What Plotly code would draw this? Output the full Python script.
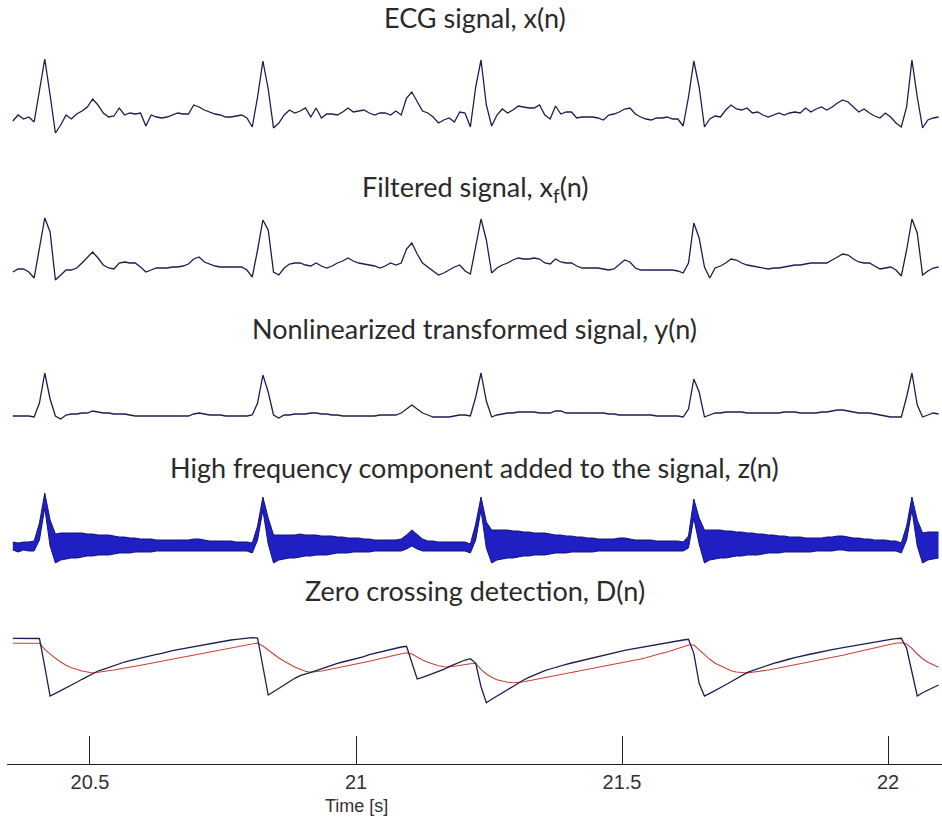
import numpy as np
import plotly.graph_objects as go

# ---------------- data ----------------
T_START = 20.355   # s, first sample
DT = 0.01          # s, sampling step

tick_vals = [20.5, 21.0, 21.5, 22.0]
tick_text = ["20.5", "21", "21.5", "22"]

titles = [
    "ECG signal, x(n)",
    "Filtered signal, x<sub>f</sub>(n)",
    "Nonlinearized transformed signal, y(n)",
    "High frequency component added to the signal, z(n)",
    "Zero crossing detection, D(n)",
]

ecg = [-4, 2, -2, 0, -5, 25, 58, 22, -16, -8,
       2, -2, 3, 6, 10, 18, 12, 4, 0, 1,
       9, 2, 4, 3, 4, -9, 2, 0, -1, 0,
       2, 4, 3, 3, 12, 10, 7, 5, 3, 2,
       0, 0, 1, 2, -1, -10, 20, 56, 28, -11,
       -6, 2, 7, 4, 6, 9, 0, 9, -1, 3,
       3, 2, 5, 9, 5, 6, 7, 4, 2, 4,
       4, 2, 6, 2, 19, 25, 16, 6, 4, 0,
       -6, -3, -1, -5, 5, 4, -10, 30, 57, 12,
       -9, 2, 8, 4, 7, 11, 10, 9, 9, 12,
       2, -2, 11, 3, 5, 5, -1, 0, 0, 0,
       -1, -3, 2, 3, 5, 8, 9, 3, 0, -2,
       -3, -1, -1, 0, -2, -2, -9, 20, 56, 30,
       -10, -2, 1, 0, 7, 12, 8, 7, 9, 4,
       5, 2, 0, 2, 4, 2, 4, 5, 4, 9,
       5, 8, 10, 7, 10, 14, 17, 15, 10, 5,
       8, 4, 1, -1, 4, 0, -6, -10, 10, 57,
       20, -11, -3, -1, 0]

x_filt = [-4, -1, -1, -4, -10, 20, 50, 36, -12, -7,
          -2, -2, 0, 5, 11, 16, 10, 3, 0, -1,
          5, 6, 5, 5, 1, -4, -2, 0, 0, 0,
          1, 1, 2, 4, 9, 11, 6, 4, 2, 1,
          1, 1, 1, 1, -2, -9, 18, 48, 38, -4,
          -7, 0, 4, 5, 5, 3, 2, 5, 2, 0,
          2, 5, 7, 10, 7, 5, 4, 3, 2, 0,
          2, 5, 3, 5, 19, 25, 14, 5, 1, -3,
          -7, -5, -2, 1, 3, -3, -6, 22, 49, 28,
          -5, 0, 3, 5, 8, 10, 9, 9, 10, 9,
          5, 4, 9, 6, 5, 5, 2, 0, 0, 0,
          0, -1, -2, -1, 4, 8, 6, 0, -2, -2,
          -2, -2, -2, -2, -2, -3, -5, 5, 45, 30,
          1, -10, 0, 2, 5, 9, 8, 5, 3, 2,
          1, 0, -1, 0, 0, 1, 2, 3, 3, 4,
          5, 5, 5, 5, 8, 11, 14, 13, 9, 6,
          5, 5, 2, -1, 0, 1, -2, -8, 18, 49,
          35, -7, -3, 0, 1]

y_nl = [1, 1, 1, 1, 0, 14, 44, 18, 1, -2,
        2, 3, 3, 4, 4, 6, 5, 4, 4, 3,
        3, 3, 2, 1, 1, 1, 1, 1, 1, 1,
        1, 1, 1, 1, 3, 4, 3, 2, 2, 2,
        1, 1, 1, 1, 1, 2, 14, 42, 25, 2,
        -1, 2, 2, 3, 3, 3, 4, 4, 3, 3,
        2, 2, 1, 1, 1, 1, 1, 1, 1, 2,
        2, 2, 2, 4, 8, 12, 8, 4, 2, 0,
        0, 0, 0, 1, 2, 2, 1, 20, 44, 16,
        0, 2, 3, 4, 4, 5, 5, 5, 5, 4,
        4, 4, 6, 6, 4, 4, 4, 4, 4, 4,
        4, 4, 3, 3, 2, 2, 2, 2, 2, 2,
        2, 1, 1, 1, 1, 1, 0, 8, 38, 25,
        0, 2, 4, 4, 5, 5, 5, 5, 4, 4,
        4, 4, 4, 4, 4, 5, 5, 5, 4, 4,
        4, 4, 5, 5, 6, 7, 7, 6, 5, 4,
        4, 4, 3, 2, 1, 0, 0, 0, 20, 44,
        12, 0, 2, 4, 3]

z_upper = [6, 5, 6, 6, 7, 25, 55, 28, 14, 15,
           15, 15, 15, 15, 14, 14, 13, 13, 13, 12,
           11, 11, 10, 10, 9, 9, 9, 8, 8, 8,
           8, 8, 8, 8, 9, 9, 8, 7, 7, 7,
           7, 7, 6, 6, 6, 5, 22, 51, 30, 13,
           13, 13, 13, 13, 14, 13, 13, 13, 12, 12,
           12, 11, 11, 10, 10, 10, 9, 9, 8, 8,
           8, 8, 8, 9, 13, 18, 13, 9, 7, 7,
           6, 6, 6, 6, 6, 6, 4, 24, 51, 26,
           18, 18, 18, 18, 17, 17, 16, 16, 15, 15,
           15, 14, 13, 13, 12, 12, 11, 11, 10, 10,
           9, 9, 9, 9, 10, 10, 9, 8, 8, 8,
           8, 7, 7, 7, 7, 7, 6, 12, 49, 30,
           18, 18, 18, 18, 17, 17, 16, 16, 15, 15,
           14, 14, 13, 13, 12, 12, 11, 11, 11, 10,
           10, 10, 10, 11, 11, 12, 12, 11, 10, 10,
           9, 9, 8, 8, 8, 7, 7, 5, 22, 51,
           28, 15, 16, 16, 16]

z_lower = [-2, -4, -2, -3, -3, 8, 40, 2, -15, -12,
           -11, -10, -10, -9, -8, -8, -7, -7, -7, -6,
           -5, -5, -5, -4, -4, -4, -4, -3, -3, -3,
           -3, -3, -3, -3, -3, -3, -3, -3, -3, -3,
           -3, -3, -3, -3, -3, -5, 8, 38, 4, -15,
           -12, -11, -10, -10, -9, -8, -8, -7, -7, -7,
           -6, -5, -5, -5, -4, -4, -4, -4, -3, -3,
           -3, -3, -3, -3, -1, 2, -1, -3, -3, -3,
           -3, -3, -3, -3, -3, -3, -5, 8, 38, 0,
           -15, -12, -11, -10, -10, -9, -8, -8, -7, -7,
           -7, -6, -5, -5, -5, -4, -4, -4, -4, -4,
           -3, -3, -3, -3, -3, -3, -3, -3, -3, -3,
           -3, -3, -3, -3, -3, -3, -3, 0, 30, 4,
           -15, -12, -11, -10, -10, -9, -8, -8, -7, -7,
           -7, -6, -5, -5, -5, -4, -4, -4, -4, -4,
           -4, -3, -3, -3, -3, -2, -2, -3, -3, -3,
           -3, -3, -3, -3, -3, -3, -3, -5, 8, 38,
           2, -15, -12, -11, -10]

d_signal = [61.7, 61.7, 61.7, 61.7, 61.7, 61.5, 33.3, 4, 6.7, 9.3,
            12.3, 15, 17.7, 20.7, 23.3, 26.3, 29, 30.7, 32.7, 34.3,
            36.3, 38, 39.3, 40.7, 42, 43.3, 44.3, 45.7, 46.7, 48.3,
            49.3, 50.3, 51.3, 52.3, 53.3, 54.7, 55.7, 56.7, 57.7, 58.3,
            59.3, 60, 60.7, 61.3, 62, 62.3, 62, 33, 5, 8.3,
            11.7, 15, 18.3, 21.7, 24.3, 26.3, 27.7, 29.3, 31.3, 33.3,
            35, 36.7, 38, 39.3, 40.7, 42, 43.3, 45.3, 46.7, 48,
            49.3, 50.7, 52, 53, 53.7, 38, 21, 22.7, 24.7, 26.7,
            28.3, 30.7, 33.3, 35.7, 38, 40, 41.3, 36.7, 13.3, -2.7,
            0.7, 4, 7.3, 10.7, 14, 17.3, 20, 22.7, 25, 27.3,
            29.3, 31, 32.7, 34, 35.7, 37, 38.3, 39.7, 41, 42.3,
            43.7, 45, 46, 47.3, 48.3, 49.7, 50.7, 51.7, 52.7, 53.7,
            54.7, 55.7, 56.3, 57.3, 58.3, 59.3, 60, 60.7, 46.7, 16.7,
            4, 6.7, 9.3, 12.3, 15.3, 18.3, 21.3, 24, 27.3, 29.3,
            31.3, 33.3, 35, 36.7, 38, 39.7, 41, 42.3, 43.7, 44.7,
            46, 47, 48.3, 49.3, 50.3, 51.3, 52.3, 53.3, 54, 55,
            56, 57, 58, 59, 59.7, 60.7, 61.3, 61.7, 51.7, 26.7,
            4, 7.3, 10, 12.7, 15]

d_threshold = [56.7, 56.7, 56.7, 56.7, 56.7, 56.7, 50.7, 46, 41.7, 38,
               34.7, 32.3, 30.3, 29, 28, 27, 27.7, 28.3, 29, 30,
               31, 31.7, 32.7, 33.7, 34.7, 35.7, 36.7, 37.7, 38.7, 39.7,
               40.7, 41.7, 42.7, 43.7, 44.7, 46, 47, 48, 49, 50,
               51, 52, 53, 54, 55, 56, 57, 54, 50, 45.7,
               42, 38.7, 35.7, 33, 30.7, 28.7, 27.7, 28, 29, 30,
               31, 32, 33, 34, 35.3, 36.3, 37.3, 38.7, 40, 41,
               42.3, 43.7, 45, 46.3, 47.3, 46, 42.7, 40, 37.7, 35.7,
               34.3, 33.3, 33, 33.7, 34.7, 35.7, 36.3, 36.7, 30.7, 26,
               22.7, 20.3, 18.7, 17.7, 17.3, 17.7, 18.3, 19.3, 20.3, 21.3,
               22.3, 23.3, 24.3, 25.3, 26.3, 27.3, 28.3, 29.3, 30.3, 31.3,
               32.3, 33.3, 34.3, 35.3, 36.3, 37.3, 38.7, 39.7, 41, 42.3,
               44, 45.3, 46.7, 48, 49.7, 51.3, 53, 55, 55, 50,
               45, 40.7, 36.7, 34, 31.3, 29.3, 28, 27.3, 27, 27.7,
               28.3, 29.3, 30, 31, 32, 33, 34, 35, 36, 37,
               38, 39, 40, 41.3, 42.3, 43.7, 44.7, 46, 47.3, 48.3,
               49.7, 51, 52.3, 53.7, 54.7, 55.7, 56.7, 57.3, 56, 51.7,
               46, 41.3, 37.7, 35, 32.7]

t = np.round(T_START + DT * np.arange(len(ecg)), 4)

# ---------------- layout geometry ----------------
W, H = 942, 822
ML, MR, MT, MB = 7, 0, 0, 58
PH = H - MT - MB  # plot height in px


def ypaper(px):
    return (PH - px) / PH


def dom(top_px, bot_px):
    return [ypaper(bot_px), ypaper(top_px)]


NAVY = "#1d1d52"
fig = go.Figure()

fig.add_trace(go.Scatter(x=t, y=ecg, mode="lines", line=dict(color=NAVY, width=1.3),
                         yaxis="y", showlegend=False, hoverinfo="skip"))
fig.add_trace(go.Scatter(x=t, y=x_filt, mode="lines", line=dict(color=NAVY, width=1.3),
                         yaxis="y2", showlegend=False, hoverinfo="skip"))
fig.add_trace(go.Scatter(x=t, y=y_nl, mode="lines", line=dict(color=NAVY, width=1.3),
                         yaxis="y3", showlegend=False, hoverinfo="skip"))
fig.add_trace(go.Scatter(x=t, y=z_upper, mode="lines", line=dict(color="#14147a", width=1),
                         yaxis="y4", showlegend=False, hoverinfo="skip"))
fig.add_trace(go.Scatter(x=t, y=z_lower, mode="lines", line=dict(color="#14147a", width=1),
                         fill="tonexty", fillcolor="#1f1fc4",
                         yaxis="y4", showlegend=False, hoverinfo="skip"))
fig.add_trace(go.Scatter(x=t, y=d_threshold, mode="lines", line=dict(color="#c8403a", width=1.1),
                         yaxis="y5", showlegend=False, hoverinfo="skip"))
fig.add_trace(go.Scatter(x=t, y=d_signal, mode="lines", line=dict(color=NAVY, width=1.3),
                         yaxis="y5", showlegend=False, hoverinfo="skip"))

hidden = dict(visible=False, fixedrange=True)
fig.update_layout(
    width=W, height=H,
    margin=dict(l=ML, r=MR, t=MT, b=MB),
    paper_bgcolor="white", plot_bgcolor="white",
    xaxis=dict(range=[20.344, 22.1015], anchor="free", position=0,
               showline=True, linecolor="#222222", linewidth=1.4,
               ticks="inside", ticklen=28, tickwidth=1.2, tickcolor="#222222",
               tickvals=tick_vals, ticktext=tick_text, showgrid=False, zeroline=False,
               tickfont=dict(family="Liberation Sans Narrow, Liberation Sans, Arial",
                             size=20, color="#333333")),
    yaxis=dict(domain=dom(40, 150), range=[-33, 77], **hidden),
    yaxis2=dict(domain=dom(205, 295), range=[-27, 63], **hidden),
    yaxis3=dict(domain=dom(360, 430), range=[-13, 57], **hidden),
    yaxis4=dict(domain=dom(485, 570), range=[-22, 63], **hidden),
    yaxis5=dict(domain=dom(625, 715), range=[-15, 75], **hidden),
)

title_y_px = [18, 188, 328, 468, 590]
for txt, py in zip(titles, title_y_px):
    fig.add_annotation(text=txt, xref="paper", yref="paper", x=0.5, y=ypaper(py),
                       xanchor="center", yanchor="middle", showarrow=False,
                       font=dict(family="Lato, Open Sans, sans-serif", size=27, color="#2a2a2a"))

fig.add_annotation(text="Time [s]", xref="x", yref="paper", x=21.0, y=ypaper(806),
                   xanchor="center", yanchor="middle", showarrow=False,
                   font=dict(family="Liberation Sans Narrow, Liberation Sans, Arial",
                             size=18, color="#333333"))

fig.write_html("out.html")
